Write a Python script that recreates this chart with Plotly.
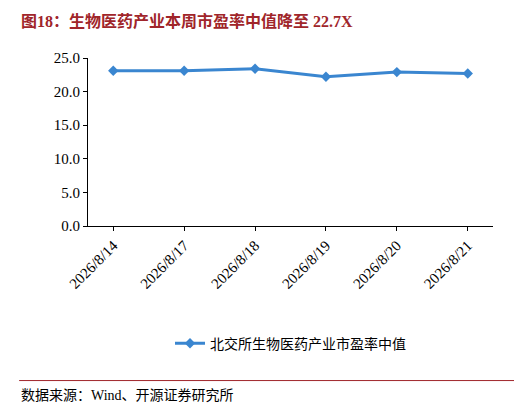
import plotly.graph_objects as go

dates = ["2026/8/14", "2026/8/17", "2026/8/18", "2026/8/19", "2026/8/20", "2026/8/21"]
pe_median = [23.1, 23.1, 23.4, 22.2, 22.9, 22.7]
series_name = "北交所生物医药产业市盈率中值"

fig = go.Figure()
fig.add_trace(go.Scatter(x=dates, y=pe_median, mode="lines+markers", name=series_name,
                         line=dict(color="#3A86D0", width=3),
                         marker=dict(symbol="diamond", size=8, color="#3A86D0")))
fig.update_layout(
    width=522, height=405, paper_bgcolor="white", plot_bgcolor="white",
    margin=dict(l=80, r=37, t=50, b=187),
    font=dict(family="Liberation Serif, Noto Sans CJK SC", size=15, color="black"),
    showlegend=True,
    legend=dict(orientation="h", x=0.5, xanchor="center", y=-0.70, yanchor="middle",
                font=dict(family="Liberation Serif, Noto Sans CJK SC", size=14)),
    xaxis=dict(type="category", tickangle=-45, showline=True, linecolor="black",
               ticks="outside", ticklen=4, tickcolor="black", showgrid=False,
               tickfont=dict(size=15)),
    yaxis=dict(range=[0, 25], dtick=5, tickformat=".1f", showline=True, linecolor="black",
               ticks="outside", ticklen=4, tickcolor="black", showgrid=False,
               tickfont=dict(size=15)),
)
fig.add_annotation(xref="paper", yref="paper", x=-0.17, y=1.22, xanchor="left", yanchor="middle",
                   showarrow=False, text="<b>图18：生物医药产业本周市盈率中值降至 22.7X</b>",
                   font=dict(size=16, color="#A0252A", family="Liberation Serif, Noto Sans CJK SC"))
fig.add_shape(type="line", xref="paper", yref="paper", x0=-0.17, x1=1.08, y0=-0.92, y1=-0.92,
              line=dict(color="#A0252A", width=1))
fig.add_annotation(xref="paper", yref="paper", x=-0.17, y=-1.01, xanchor="left", yanchor="middle",
                   showarrow=False, text="数据来源：Wind、开源证券研究所",
                   font=dict(size=14, family="Liberation Serif, Noto Sans CJK SC"))
fig.write_html("out.html")
